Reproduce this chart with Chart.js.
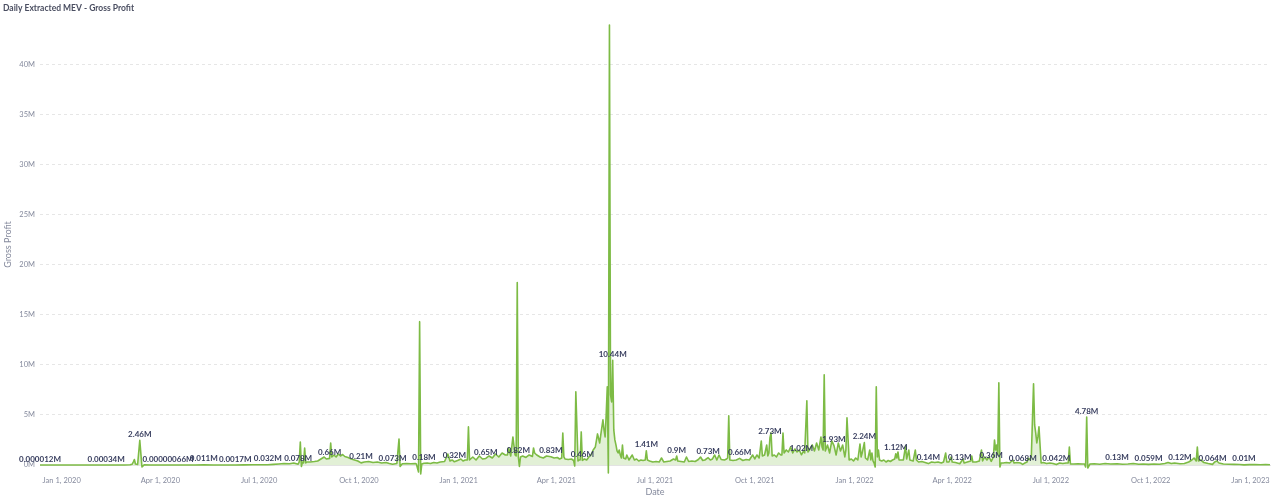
<!DOCTYPE html>
<html>
<head>
<meta charset="utf-8">
<title>Daily Extracted MEV - Gross Profit</title>
<script src="https://cdn.jsdelivr.net/npm/chart.js@4.4.1/dist/chart.umd.min.js"></script>
<style>
  html, body { margin: 0; padding: 0; background: #fff; }
</style>
</head>
<body>
<canvas id="mev" width="1280" height="497"></canvas>
<script>
// days since Jan 1, 2020 (one row of days per row of values)
var days = [
  -20, -10, 0, 11, 20, 30, 41, 50, 58, 63,
  65, 66, 67, 68, 70, 72, 74, 76, 82, 90,
  98, 106, 115, 123, 131, 140, 150, 160, 168, 176,
  184, 190, 195, 200, 205, 210, 214, 218, 219, 220,
  221, 222, 223, 224, 225, 226, 229, 233, 236, 239,
  242, 244, 247, 248, 249, 251, 253, 255, 257, 259,
  261, 264, 267, 270, 273, 276, 279, 283, 287, 291,
  295, 299, 302, 305, 309, 311, 312, 314, 318, 322,
  326, 327, 329, 330, 331, 332, 334, 337, 340, 343,
  346, 349, 353, 356, 358, 360, 362, 365, 368, 370,
  372, 374, 375, 376, 379, 382, 385, 388, 391, 394,
  397, 400, 403, 406, 409, 411, 412, 414, 416, 418,
  419, 420, 421, 422, 423, 425, 428, 431, 434, 435,
  436, 438, 441, 444, 447, 451, 454, 457, 459, 461,
  462, 463, 464, 467, 470, 472, 473, 474, 476, 477,
  478, 479, 480, 482, 484, 486, 488, 490, 492, 494,
  496, 497, 499, 500, 501, 502, 503, 504, 505, 506,
  507, 508, 509, 510, 511, 512, 513, 514, 515, 516,
  517, 518, 520, 521, 523, 526, 528, 530, 532, 534,
  536, 538, 539, 540, 542, 545, 548, 551, 553, 555,
  558, 561, 564, 566, 567, 568, 571, 574, 576, 578,
  581, 584, 587, 589, 591, 593, 596, 598, 600, 602,
  604, 606, 608, 611, 613, 614, 615, 616, 619, 622,
  625, 628, 631, 634, 637, 639, 641, 643, 645, 646,
  648, 650, 651, 652, 653, 654, 655, 657, 659, 661,
  663, 664, 665, 666, 668, 670, 672, 674, 676, 678,
  680, 682, 684, 685, 687, 688, 690, 692, 694, 696,
  698, 700, 701, 702, 703, 704, 706, 708, 710, 712,
  714, 716, 718, 720, 722, 723, 724, 726, 728, 730,
  732, 734, 736, 737, 738, 740, 741, 743, 745, 746,
  747, 748, 749, 750, 751, 752, 753, 754, 756, 758,
  760, 762, 764, 766, 768, 769, 770, 771, 772, 776,
  778, 779, 781, 782, 785, 787, 788, 790, 793, 796,
  799, 802, 805, 808, 811, 813, 815, 816, 818, 820,
  821, 824, 828, 831, 832, 835, 838, 839, 840, 843,
  846, 848, 849, 851, 853, 855, 857, 859, 860, 861,
  862, 863, 864, 865, 866, 868, 871, 874, 877, 878,
  881, 884, 886, 888, 890, 891, 893, 894, 896, 897,
  898, 899, 900, 901, 903, 905, 908, 911, 914, 917,
  920, 923, 926, 928, 929, 930, 933, 937, 941, 943,
  944, 945, 946, 948, 952, 957, 962, 967, 973, 978,
  983, 988, 993, 997, 1002, 1007, 1012, 1017, 1020, 1023,
  1026, 1031, 1035, 1039, 1042, 1044, 1046, 1047, 1048, 1050,
  1053, 1057, 1061, 1063, 1065, 1067, 1071, 1076, 1081, 1086,
  1090, 1095, 1100, 1105, 1110, 1114
];

// gross profit, millions
var grossProfitM = [
  0.000012, 0.00002, 0.00003, 0.00008, 0.0001, 0.0002, 0.00034, 0.0006, 0.002, 0.02,
  0.08, 0.3, 0.55, 0.1, 0.05, 2.46, -0.2, 0.01, 0.0001, 0.00001,
  0.00000066, 0.0005, 0.003, 0.006, 0.011, 0.004, 0.002, 0.0017, 0.01, 0.02,
  0.03, 0.032, 0.06, 0.1, 0.15, 0.12, 0.2, 0.078, 0.3, 2.3,
  -0.15, 0.3, 0.2, 1.7, 0.2, 0.3, 0.3, 0.35, 0.4, 0.6,
  0.8, 0.6, 0.66, 2.2, 0.8, 1.0, 0.8, 1.1, 0.9, 1.05,
  0.85, 0.75, 0.6, 0.5, 0.4, 0.21, 0.3, 0.35, 0.25, 0.3,
  0.2, 0.25, 0.15, 0.073, 0.15, 2.6, -0.15, 0.12, 0.15, 0.12,
  0.15, 0.1, -0.7, 14.3, -0.9, 0.1, 0.18, 0.2, 0.15, 0.25,
  0.2, 0.3, 0.35, 1.1, 0.4, 0.5, 0.32, 0.45, 0.6, 0.4,
  0.5, 0.5, 3.8, 0.5, 0.8, 0.5, 0.9, 0.6, 0.65, 0.9,
  0.7, 1.1, 0.8, 1.2, 1.0, 1.0, 1.7, 0.9, 2.8, 1.0,
  0.9, 18.2, 0.82, -0.15, 0.8, 0.9, 0.75, 1.0, 0.85, 1.7,
  1.2, 1.0, 0.8, 0.7, 0.9, 0.83, 0.7, 0.75, 0.6, 0.7,
  3.2, 0.8, 0.6, 0.55, 0.6, 0.45, -0.1, 7.3, 0.4, 0.5,
  0.5, 3.3, 0.46, 0.6, 0.5, 0.8, 1.0, 1.5, 1.8, 3.1,
  2.2, 3.0, 4.5, 3.5, 2.8, 5.0, 7.8, -0.8, 43.9, 7.0,
  6.3, 10.44, 3.5, 2.5, 2.0, 1.4, 1.2, 1.5, 1.0, 0.7,
  2.0, 0.7, 0.6, 1.0, 0.5, 1.0, 0.5, 0.6, 0.4, 0.5,
  0.45, 0.5, 1.41, 0.5, 0.4, 0.3, 0.35, 0.3, 0.7, 0.3,
  0.35, 0.4, 0.6, 0.5, 0.9, 0.4, 0.35, 0.3, 0.8, 0.35,
  0.4, 0.35, 0.55, 0.8, 0.45, 0.5, 0.73, 0.5, 0.6, 1.0,
  0.5, 1.0, 0.55, 0.5, 0.6, 0.7, 4.9, 0.5, 0.45, 0.5,
  0.66, 0.45, 0.55, 0.5, 1.0, 0.6, 1.0, 0.7, 2.4, 0.9,
  1.0, 2.0, 0.9, 1.2, 2.73, 3.2, 0.9, 1.0, 0.8, 1.2,
  1.0, 1.0, 3.2, 1.2, 1.5, 1.3, 1.8, 1.2, 1.6, 1.3,
  1.5, 1.02, 1.4, 1.2, 6.4, 1.3, 1.6, 2.0, 1.4, 2.2,
  1.5, 2.8, 1.8, 1.5, 9.0, 1.4, 2.0, 1.2, 2.4, 1.93,
  1.0, 2.2, 1.4, 2.0, 0.8, 1.5, 4.7, 0.5, 0.6, 0.4,
  0.7, 0.5, 2.1, 0.8, 1.2, 2.24, 0.7, 0.5, 1.5, 0.5,
  1.2, 0.4, 0.2, -0.2, 7.8, 0.8, 1.5, 0.5, 0.4, 0.5,
  0.3, 0.45, 0.35, 0.5, 0.6, 1.12, 0.7, 1.3, 0.5, 0.5,
  1.9, 0.6, 1.5, 0.5, 0.4, 1.5, 0.5, 0.3, 0.35, 0.25,
  0.14, 0.3, 0.25, 0.3, 0.2, 0.3, 1.2, 0.3, 0.3, 0.8,
  0.3, 0.25, 0.13, 0.6, 0.2, 0.3, 0.4, 0.9, 0.3, 0.3,
  0.4, 1.5, 0.4, 0.8, 0.5, 0.8, 0.36, 0.8, 2.5, 1.5,
  2.0, 1.0, 8.2, -0.2, 0.2, 0.2, 0.25, 0.2, 0.5, 0.2,
  0.25, 0.2, 0.068, 0.2, 0.3, 0.7, 0.5, 1.0, 8.1, 4.0,
  3.2, 2.2, 2.8, 3.8, 0.2, 0.25, 0.15, 0.2, 0.15, 0.042,
  0.2, 0.15, 0.2, 0.2, 1.8, 0.1, 0.1, 0.12, 0.1, 0.1,
  -0.2, 4.78, -0.3, 0.1, 0.12, 0.08, 0.15, 0.1, 0.13, 0.08,
  0.1, 0.15, 0.08, 0.1, 0.059, 0.1, 0.08, 0.15, 0.25, 0.15,
  0.2, 0.12, 0.15, 0.3, 0.5, 0.7, 0.4, 1.8, 0.4, 0.5,
  0.25, 0.15, 0.064, 0.3, 0.4, 0.2, 0.1, 0.08, 0.06, 0.05,
  0.01, 0.04, 0.05, 0.03, 0.04, 0.03
];

// days that carry a value label
var labelDays = [-20, 41, 72, 98, 131, 160, 190, 218, 247, 276, 305, 334, 362, 391,
  421, 451, 480, 508, 539, 567, 596, 625, 653, 682, 712, 740, 769, 799, 828, 857,
  886, 917, 945, 973, 1002, 1031, 1061, 1090];

var tickDays = [0, 91, 182, 274, 366, 456, 547, 639, 731, 821, 912, 1004, 1096];
var tickLabels = ['Jan 1, 2020', 'Apr 1, 2020', 'Jul 1, 2020', 'Oct 1, 2020',
  'Jan 1, 2021', 'Apr 1, 2021', 'Jul 1, 2021', 'Oct 1, 2021',
  'Jan 1, 2022', 'Apr 1, 2022', 'Jul 1, 2022', 'Oct 1, 2022', 'Jan 1, 2023'];
var yTicks = [0, 5, 10, 15, 20, 25, 30, 35, 40];

function fmt(v) {
  return v.toFixed(8).replace(/\.?0+$/, '') + 'M';
}

var valueLabels = {
  id: 'valueLabels',
  afterDatasetsDraw: function (chart) {
    var ctx = chart.ctx;
    var meta = chart.getDatasetMeta(0);
    ctx.save();
    ctx.font = 'bold 8px Lato';
    ctx.fillStyle = '#373d5e';
    ctx.textAlign = 'center';
    ctx.textBaseline = 'bottom';
    labelDays.forEach(function (d) {
      var i = days.indexOf(d);
      if (i < 0) return;
      var pt = meta.data[i];
      ctx.fillText(fmt(grossProfitM[i]), pt.x, pt.y - 2);
    });
    ctx.restore();
  }
};

Chart.defaults.font.family = 'Lato';

var points = days.map(function (d, i) { return { x: d, y: grossProfitM[i] }; });

new Chart(document.getElementById('mev'), {
  type: 'line',
  data: {
    datasets: [{
      label: 'Gross Profit',
      data: points,
      borderColor: '#7dbb45',
      borderWidth: 1.6,
      borderJoinStyle: 'round',
      pointRadius: 0,
      tension: 0,
      clip: false,
      fill: { target: 'origin', above: 'rgba(125,187,69,0.22)', below: 'rgba(125,187,69,0.22)' }
    }]
  },
  options: {
    responsive: false,
    animation: false,
    devicePixelRatio: 1,
    layout: { padding: { left: 3, right: 10, top: 0, bottom: 0 } },
    plugins: {
      legend: { display: false },
      tooltip: { enabled: false },
      title: {
        display: true,
        text: 'Daily Extracted MEV - Gross Profit',
        align: 'start',
        color: '#4a4e61',
        font: { size: 8.5, weight: 'bold' },
        padding: { top: 3, bottom: 10.8 }
      }
    },
    scales: {
      x: {
        type: 'linear',
        min: -20,
        max: 1114,
        afterBuildTicks: function (s) {
          s.ticks = tickDays.map(function (v) { return { value: v }; });
        },
        afterFit: function (s) { s.height = 32; },
        grid: { display: false },
        border: { display: true, color: '#e3e3e3' },
        ticks: {
          autoSkip: false,
          maxRotation: 0,
          padding: 3,
          color: '#858a9d',
          font: { size: 7.5 },
          callback: function (v) { return tickLabels[tickDays.indexOf(v)]; }
        },
        title: {
          display: true,
          text: 'Date',
          color: '#858a9d',
          font: { size: 9 },
          padding: { top: 4, bottom: 0 }
        }
      },
      y: {
        min: 0,
        max: 44,
        afterBuildTicks: function (s) {
          s.ticks = yTicks.map(function (v) { return { value: v }; });
        },
        afterFit: function (s) { s.width = 37; },
        grid: { color: '#e6e6e6', drawTicks: false },
        border: { display: false, dash: [3, 3] },
        ticks: {
          padding: 5,
          color: '#858a9d',
          font: { size: 7.5 },
          callback: function (v) { return v + 'M'; }
        },
        title: {
          display: true,
          text: 'Gross Profit',
          color: '#858a9d',
          font: { size: 9 },
          padding: { top: 0, bottom: 0 }
        }
      }
    }
  },
  plugins: [valueLabels]
});
</script>
</body>
</html>
